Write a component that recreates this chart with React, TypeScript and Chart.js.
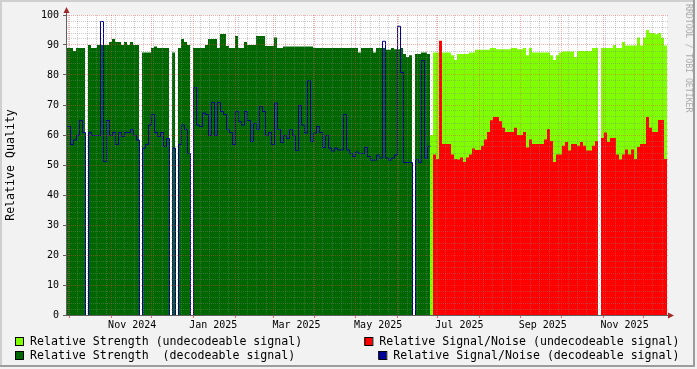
import { useEffect, useRef } from 'react';
import { Chart, registerables } from 'chart.js';

Chart.register(...registerables);

// Time axis: day 0 = 2024-09-29; one sample = 2.227 days; 200 samples span the plot.
const SAMPLE_DAYS = 2.227;
const RANGE_DAYS = 445.4;

// Samples 0..120 (decodeable signal)
const strengthDecodeable: (number | null)[] = [
  89, 89, 88, 89, 89, 89, null, 90, 89, 89,
  90, 90, 90, 90, 91, 92, 91, 91, 90, 91,
  90, 91, 90, 90, null, 87.5, 87.5, 87.5, 89, 89.5,
  89, 89, 89, 89, null, 87.5, null, 89, 92, 91,
  90, null, 89, 89, 89, 89, 90, 92, 92, 92,
  89, 93.7, 93.7, 89.7, 89, 89, 93, 89, 89, 91,
  90, 90, 90, 93, 93, 93, 89.7, 89.7, 89.7, 92.5,
  89, 89, 89.5, 89.5, 89.5, 89.5, 89.5, 89.5, 89.5, 89.5,
  89.5, 89.5, 89, 89, 89, 89, 89, 89, 89, 89,
  89, 89, 89, 89, 89, 89, 89, 87.5, 89, 89,
  89, 89, 87.5, 89, 89, 89, 88.4, 88.4, 89, 88.6,
  88.6, 89, 87, 86, 86.6, null, 87, 87, 87.5, 87.5,
  87,
];
const snrDecodeable: (number | null)[] = [
  63, 57, 58.5, 60, 65, 61, 0, 61, 60, 60,
  60, 98, 51.3, 65, 60, 61, 57, 61, 59.7, 61,
  61, 62, 60, 58.5, 0, 55.8, 57, 63.5, 67, 61,
  59.7, 61, 56.4, 59, 0, 55.8, 0, 57, 63.5, 62,
  54, 0, 76, 63.5, 63, 67.5, 67, 60, 71, 60,
  71, 68, 67, 62, 61, 57, 68, 64.6, 63.5, 68,
  65, 58, 64, 62, 69.6, 68, 60, 61, 57, 70.8,
  62, 57.7, 60, 59, 62, 60, 55, 70, 63.5, 60.8,
  78.3, 58, 60.8, 63, 61, 56, 60, 55.8, 54.8, 55.8,
  55.2, 55.2, 67, 55.2, 54, 53, 54.5, 54, 54, 56,
  53, 51.8, 51.8, 53.5, 52.5, 91.4, 52.5, 51.8, 52.5, 53.5,
  96.4, 81, 51, 51, 51, 0, 52, 51, 85, 52.5,
  56.4,
];

// Samples 121..199 (undecodeable signal)
const strengthUndecodeable: (number | null)[] = [
  60, 87.5, 87.5, 87.5, 87.5, 87.5, 87.5, 86.6, 85, 87,
  87, 87, 87, 87.5, 87.5, 88.4, 88.4, 88.4, 88.4, 88.4,
  89, 89, 88.6, 88.6, 88.6, 88.6, 88.6, 89, 89, 88.6,
  88.6, 89, 86.6, 89, 87.5, 87.5, 87.5, 87.5, 87.5, 87.5,
  86.6, 85, 86.6, 87.5, 87.8, 87.8, 87.8, 87.8, 86, 88,
  88, 88, 88, 88, 89, 89, null, 89, 89, 89,
  89, 90, 89, 89, 91, 89.8, 89.8, 89.8, 89.8, 92.5,
  89.8, 92.5, 95, 94, 94, 93.6, 94, 92.4, 89.8,
];
const snrUndecodeable: (number | null)[] = [
  null, 53.5, 52, 91.4, 57, 57, 57, 53.5, 52, 51.8,
  52.5, 51, 52.5, 53.5, 55.5, 55, 55, 56.4, 58.5, 61,
  64.9, 66, 66, 64.6, 62.4, 61, 61, 61, 62.4, 60,
  60, 61, 55.8, 58.5, 57, 57, 57, 57, 58.5, 62,
  58, 51, 53.5, 53.5, 56.4, 57.7, 54.8, 57, 57, 56.4,
  57.7, 56.4, 54.8, 54.8, 56.4, 58, null, 59, 60.8, 57.7,
  59, 59, 53.5, 51.8, 53.5, 55.2, 53.5, 55.2, 52, 56,
  57, 57, 66, 62.4, 61, 61, 65, 65, 52,
];

const UNDECODEABLE_OFFSET = strengthDecodeable.length;

// Axis data
const monthStartDays = [2, 33, 63, 94, 125, 153, 184, 214, 245, 275, 306, 337, 367, 398, 428];
const firstMondayDay = 1;
const xLabelText = ['Nov 2024', 'Jan 2025', 'Mar 2025', 'May 2025', 'Jul 2025', 'Sep 2025', 'Nov 2025'];
const xLabelDays = [48.4, 108.6, 170.4, 231, 291.3, 353.2, 413.9];

const legendItems = [
  { text: 'Relative Strength (undecodeable signal)', color: '#80FF00', col: 0, row: 0 },
  { text: 'Relative Signal/Noise (undecodeable signal)', color: '#FF0000', col: 1, row: 0 },
  { text: 'Relative Strength  (decodeable signal)', color: '#006600', col: 0, row: 1 },
  { text: 'Relative Signal/Noise (decodeable signal)', color: '#000096', col: 1, row: 1 },
];

const MONO = '"DejaVu Sans Mono", monospace';

function stepPoints(values: (number | null)[], offset: number) {
  const pts: { x: number; y: number | null }[] = [];
  values.forEach((v, k) => {
    const x0 = (offset + k) * SAMPLE_DAYS;
    if (v === null) {
      pts.push({ x: x0, y: null });
      return;
    }
    pts.push({ x: x0, y: v });
    const next = values[k + 1];
    if (next === undefined || next === null) pts.push({ x: x0 + SAMPLE_DAYS, y: v });
  });
  return pts;
}

const framePlugin = {
  id: 'rrdFrame',
  beforeDraw(chart: any) {
    const { ctx, width, height, chartArea } = chart;
    ctx.save();
    ctx.fillStyle = '#F2F2F2';
    ctx.fillRect(0, 0, width, height);
    ctx.fillStyle = '#CFCFCF';
    ctx.fillRect(0, 0, 695, 2);
    ctx.fillRect(0, 0, 2, 367);
    ctx.fillStyle = '#9C9C9C';
    ctx.fillRect(0, 365, 695, 2);
    ctx.fillRect(693, 0, 2, 367);
    ctx.fillStyle = '#FFFFFF';
    ctx.fillRect(chartArea.left, chartArea.top, chartArea.right - chartArea.left, chartArea.bottom - chartArea.top);
    ctx.restore();
  },
  beforeDatasetDraw(chart: any, args: any) {
    if (args.index === 0) {
      chart.ctx.save();
      chart.ctx.translate(0.5, 0.5);
    }
  },
  afterDatasetDraw(chart: any, args: any) {
    if (args.index === 0) chart.ctx.restore();
  },
  afterDatasetsDraw(chart: any) {
    const { ctx, chartArea } = chart;
    const { left, right, top, bottom } = chartArea;
    const xs = chart.scales.x;
    const ys = chart.scales.y;
    const minor = 'rgba(130,130,130,0.42)';
    const major = 'rgba(255,60,60,0.42)';
    ctx.save();
    ctx.lineWidth = 1;
    ctx.setLineDash([1, 1]);
    const hline = (v: number, color: string) => {
      const y = Math.floor(ys.getPixelForValue(v)) + 0.5;
      ctx.strokeStyle = color;
      ctx.beginPath();
      ctx.moveTo(left, y);
      ctx.lineTo(right + 1, y);
      ctx.stroke();
    };
    const vline = (d: number, color: string) => {
      const x = Math.floor(xs.getPixelForValue(d)) + 0.5;
      ctx.strokeStyle = color;
      ctx.beginPath();
      ctx.moveTo(x, top);
      ctx.lineTo(x, bottom);
      ctx.stroke();
    };
    for (let v = 2; v < 100; v += 2) if (v % 10 !== 0) hline(v, minor);
    const monthPx = monthStartDays.map((d) => Math.floor(xs.getPixelForValue(d)));
    for (let d = firstMondayDay; d < RANGE_DAYS; d += 7) {
      const px = Math.floor(xs.getPixelForValue(d));
      if (!monthPx.includes(px)) vline(d, minor);
    }
    for (let v = 10; v <= 100; v += 10) hline(v, major);
    monthStartDays.forEach((d) => vline(d, major));
    ctx.setLineDash([]);

    // month tick marks below the axis
    ctx.strokeStyle = 'rgba(255,60,60,0.8)';
    monthStartDays.forEach((d) => {
      const x = Math.floor(xs.getPixelForValue(d)) + 0.5;
      ctx.beginPath();
      ctx.moveTo(x, bottom + 1);
      ctx.lineTo(x, bottom + 3);
      ctx.stroke();
    });
    // y major tick marks
    ctx.strokeStyle = '#606060';
    for (let v = 0; v <= 100; v += 10) {
      const y = Math.floor(ys.getPixelForValue(v)) + 0.5;
      ctx.beginPath();
      ctx.moveTo(left - 4, y);
      ctx.lineTo(left - 1, y);
      ctx.stroke();
    }
    // axes
    ctx.strokeStyle = '#606060';
    ctx.beginPath();
    ctx.moveTo(left - 0.5, bottom + 0.5);
    ctx.lineTo(left - 0.5, top - 5);
    ctx.moveTo(left - 1, bottom + 0.5);
    ctx.lineTo(right + 2, bottom + 0.5);
    ctx.stroke();
    // arrows
    ctx.fillStyle = '#A02828';
    ctx.beginPath();
    ctx.moveTo(left - 0.5, top - 8);
    ctx.lineTo(left - 3.5, top - 2);
    ctx.lineTo(left + 2.5, top - 2);
    ctx.closePath();
    ctx.fill();
    ctx.beginPath();
    ctx.moveTo(right + 7, bottom + 0.5);
    ctx.lineTo(right + 1, bottom - 2.5);
    ctx.lineTo(right + 1, bottom + 3.5);
    ctx.closePath();
    ctx.fill();
    ctx.restore();
  },
  afterDraw(chart: any) {
    const { ctx } = chart;
    ctx.save();
    ctx.font = `11.6px ${MONO}`;
    ctx.textBaseline = 'middle';
    ctx.textAlign = 'left';
    const rowY = [341.5, 355.5];
    legendItems.forEach((it) => {
      const cy = rowY[it.row];
      const w = ctx.measureText(it.text).width;
      const tx = it.col === 0 ? 30 : 679.5 - w;
      const bx = tx - 15;
      const by = cy - 4.5;
      ctx.fillStyle = it.color;
      ctx.fillRect(bx, by, 8, 8);
      ctx.strokeStyle = '#000';
      ctx.lineWidth = 1;
      ctx.strokeRect(bx + 0.5, by + 0.5, 8, 8);
      ctx.fillStyle = '#000';
      ctx.fillText(it.text, tx, cy);
    });
    // watermark
    ctx.font = `8.2px ${MONO}`;
    ctx.fillStyle = '#ABABAB';
    ctx.translate(688, 4);
    ctx.rotate(Math.PI / 2);
    ctx.textBaseline = 'middle';
    ctx.fillText('RRDTOOL / TOBI OETIKER', 0, 0);
    ctx.restore();
  },
};

export default function App() {
  const ref = useRef<HTMLCanvasElement | null>(null);
  useEffect(() => {
    document.body.style.margin = '0';
    if (!ref.current) return;
    const chart = new Chart(ref.current, {
      type: 'line',
      data: {
        datasets: [
          {
            label: 'Relative Signal/Noise (decodeable signal)',
            data: stepPoints(snrDecodeable, 0),
            borderColor: '#000096',
            borderWidth: 1,
            fill: false,
            stepped: true,
            pointRadius: 0,
          },
          {
            label: 'Relative Signal/Noise (undecodeable signal)',
            data: stepPoints(snrUndecodeable, UNDECODEABLE_OFFSET),
            backgroundColor: '#FF0000',
            borderWidth: 0,
            fill: 'origin',
            stepped: true,
            pointRadius: 0,
          },
          {
            label: 'Relative Strength  (decodeable signal)',
            data: stepPoints(strengthDecodeable, 0),
            backgroundColor: '#006600',
            borderWidth: 0,
            fill: 'origin',
            stepped: true,
            pointRadius: 0,
          },
          {
            label: 'Relative Strength (undecodeable signal)',
            data: stepPoints(strengthUndecodeable, UNDECODEABLE_OFFSET),
            backgroundColor: '#80FF00',
            borderWidth: 0,
            fill: 'origin',
            stepped: true,
            pointRadius: 0,
          },
        ] as any,
      },
      options: {
        responsive: false,
        maintainAspectRatio: false,
        animation: false,
        events: [],
        spanGaps: false,
        layout: { padding: { left: 0, right: 30, top: 15, bottom: 0 } },
        plugins: { legend: { display: false }, tooltip: { enabled: false } },
        scales: {
          x: {
            type: 'linear',
            min: 0,
            max: RANGE_DAYS,
            grid: { display: false, drawTicks: false },
            border: { display: false },
            afterBuildTicks: (s: any) => {
              s.ticks = xLabelDays.map((v) => ({ value: v }));
            },
            afterFit: (s: any) => {
              s.height = 54;
            },
            ticks: {
              autoSkip: false,
              maxRotation: 0,
              padding: 4,
              color: '#000',
              font: { family: MONO, size: 10 },
              callback: (_v: any, i: number) => xLabelText[i],
            },
          },
          y: {
            min: 0,
            max: 100,
            grid: { display: false, drawTicks: false },
            border: { display: false },
            afterFit: (s: any) => {
              s.width = 67;
            },
            ticks: {
              stepSize: 10,
              padding: 8,
              color: '#000',
              font: { family: MONO, size: 10 },
            },
            title: {
              display: true,
              text: 'Relative Quality',
              color: '#000',
              font: { family: MONO, size: 11.6 },
              padding: { top: 4.5, bottom: 0 },
            },
          },
        },
      } as any,
      plugins: [framePlugin],
    });
    return () => chart.destroy();
  }, []);
  return (
    <div style={{ width: 697, height: 369 }}>
      <canvas ref={ref} width={697} height={369} style={{ width: 697, height: 369, display: 'block' }} />
    </div>
  );
}
